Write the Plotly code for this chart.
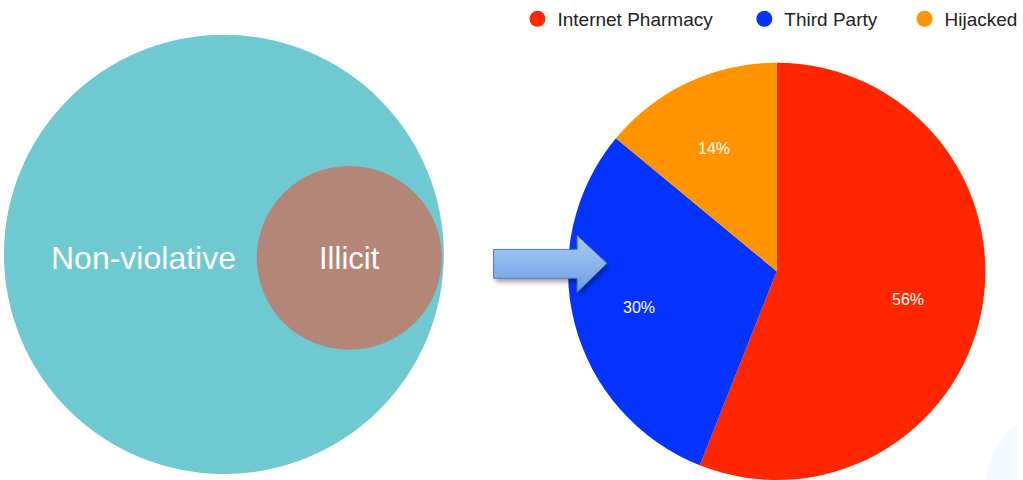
import base64
import math
import plotly.graph_objects as go

# ---- data ----
venn_sets = ["Non-violative", "Illicit"]
pie_labels = ["Internet Pharmacy", "Third Party", "Hijacked"]
pie_values = [56, 30, 14]
pie_colors = ["#FF2600", "#0433FF", "#FF9300"]

W, H = 1023, 480
FONT = "Liberation Sans, Arial, Helvetica, sans-serif"

fig = go.Figure()

# pixel-like coordinate system for drawn elements
fig.update_xaxes(range=[0, W], visible=False, fixedrange=True)
fig.update_yaxes(range=[H, 0], visible=False, fixedrange=True)

shapes = []
shapes.append(dict(type="circle", xref="x", yref="y", x0=992, y0=412, x1=1130, y1=550,
                   fillcolor="#F4F9FF", line=dict(width=0), layer="below"))
shapes.append(dict(type="circle", xref="x", yref="y", x0=4, y0=32, x1=446, y1=474,
                   fillcolor="#6EC9D0", line=dict(width=0), layer="below"))
shapes.append(dict(type="circle", xref="x", yref="y", x0=258, y0=164, x1=444, y1=349,
                   fillcolor="#B48678", line=dict(width=0), layer="below"))
fig.update_layout(shapes=shapes)

# Venn labels
fig.add_annotation(x=144, y=257, xref="x", yref="y", text=venn_sets[0], showarrow=False,
                   font=dict(family=FONT, size=32, color="white"))
fig.add_annotation(x=351, y=257, xref="x", yref="y", text=venn_sets[1], showarrow=False,
                   font=dict(family=FONT, size=31, color="white"))

# arrow (decorative, gradient + shadow) as an SVG image above the pie
bx, by, bw, bh = 488, 226, 134, 76
svg = f'''<svg xmlns="http://www.w3.org/2000/svg" width="{bw}" height="{bh}" viewBox="0 0 {bw} {bh}">
<defs>
<linearGradient id="g" x1="0" y1="0" x2="0" y2="1">
<stop offset="0" stop-color="#A9CCF8"/><stop offset="1" stop-color="#6C9FE2"/>
</linearGradient>
<filter id="s" x="-20%" y="-20%" width="140%" height="150%"><feGaussianBlur stdDeviation="2"/></filter>
</defs>
<path d="M10 26 L94 26 L94 12 L124 40 L94 69 L94 55 L10 55 Z" fill="rgba(0,0,0,0.35)" filter="url(#s)"/>
<path d="M8 22 L92 22 L92 8 L122 36 L92 65 L92 51 L8 51 Z" fill="url(#g)" stroke="#4E7EC0" stroke-width="1"/>
</svg>'''
src = "data:image/svg+xml;base64," + base64.b64encode(svg.encode()).decode()
fig.add_layout_image(source=src, xref="paper", yref="paper", x=bx / W, y=1 - by / H,
                     sizex=bw / W, sizey=bh / H, xanchor="left", yanchor="top",
                     sizing="stretch", layer="above")

# Pie
cx, cy, r = 780.5, 270, 210
fig.add_trace(go.Pie(labels=pie_labels, values=pie_values, sort=False, direction="clockwise",
                     rotation=0, marker=dict(colors=pie_colors, line=dict(width=0)),
                     textinfo="none",
                     domain=dict(x=[(cx - r) / W, (cx + r) / W],
                                 y=[0, 2 * (H - cy) / H]),
                     showlegend=False, hoverinfo="label+percent"))

# percentage labels at 2/3 radius along each slice's mid-angle (true centre ~776.5, r ~208)
pcx, pr = 776.5, 208
total = sum(pie_values)
acc = 0
for v in pie_values:
    mid = (acc + v / 2) / total * 2 * math.pi
    acc += v
    fig.add_annotation(x=pcx + 0.665 * pr * math.sin(mid), y=cy + 2 - 0.665 * pr * math.cos(mid),
                       xref="x", yref="y", text=f"{round(v / total * 100)}%", showarrow=False,
                       font=dict(family=FONT, size=16, color="white"))

# Legend with circle markers, one legend per item for exact placement
legend_x = [520, 748, 909]
for i, (lab, col) in enumerate(zip(pie_labels, pie_colors)):
    lg = "legend" if i == 0 else f"legend{i + 1}"
    fig.add_trace(go.Scatter(x=[None], y=[None], mode="markers", name=lab, legend=lg,
                             marker=dict(symbol="circle", size=16, color=col)))
    fig.update_layout({lg: dict(x=legend_x[i] / W, y=1 - 16 / H, xanchor="left", yanchor="middle",
                                font=dict(family=FONT, size=19, color="#222222"),
                                bgcolor="rgba(0,0,0,0)")})

fig.update_layout(
    width=W, height=H, margin=dict(l=0, r=0, t=0, b=0),
    paper_bgcolor="white", plot_bgcolor="white",
)

fig.write_html("out.html", config={"displayModeBar": False},
               post_script="document.body.style.margin='0';")
